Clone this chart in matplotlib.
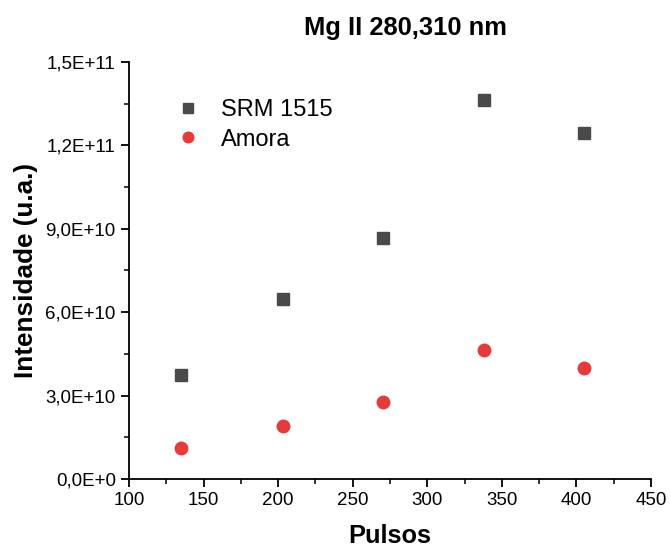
import matplotlib

matplotlib.use("Agg")

import matplotlib.pyplot as plt
from matplotlib.ticker import FuncFormatter, MultipleLocator

plt.rcParams["font.family"] = ["Liberation Sans", "DejaVu Sans"]

pulsos = [135, 203, 270, 338, 405]
srm_1515 = [3.74e10, 6.47e10, 8.66e10, 1.362e11, 1.243e11]
amora = [1.11e10, 1.90e10, 2.77e10, 4.63e10, 3.99e10]


def _sci_comma(v, _pos):
    if v == 0:
        return "0,0E+0"
    s = f"{v:.1E}"
    mant, exp = s.split("E")
    return f"{mant.replace('.', ',')}E+{int(exp)}"


fig = plt.figure(figsize=(6.7, 5.48), dpi=100)
ax = fig.add_axes([0.1925, 0.1259, 0.7791, 0.761])

ax.plot(pulsos, srm_1515, ls="none", marker="s", ms=8, color="#4a4a4a",
        label="SRM 1515")
ax.plot(pulsos, amora, ls="none", marker="o", ms=9, color="#e63b3b",
        label="Amora")

ax.set_xlim(100, 450)
ax.set_ylim(0, 1.5e11)
ax.xaxis.set_major_locator(MultipleLocator(50))
ax.xaxis.set_minor_locator(MultipleLocator(25))
ax.yaxis.set_major_locator(MultipleLocator(3e10))
ax.yaxis.set_minor_locator(MultipleLocator(1.5e10))
ax.yaxis.set_major_formatter(FuncFormatter(_sci_comma))
ax.yaxis.get_offset_text().set_visible(False)

for side in ("top", "right"):
    ax.spines[side].set_visible(False)
for side in ("left", "bottom"):
    ax.spines[side].set_linewidth(1.3)
ax.tick_params(which="major", direction="out", length=6, width=1.3,
               labelsize=13.5, colors="black")
ax.tick_params(which="minor", direction="out", length=3.5, width=1.1)

ax.set_xlabel("Pulsos", fontsize=18.3, fontweight="bold", labelpad=11)
ax.set_ylabel("Intensidade (u.a.)", fontsize=18.8, fontweight="bold", labelpad=5)

ax.legend(loc="upper left", bbox_to_anchor=(0.09, 0.911), frameon=False,
          fontsize=17, handletextpad=0.9, labelspacing=0.32, handlelength=1.0,
          borderpad=0, borderaxespad=0, markerscale=0.85)

fig.text(405 / 670, 1 - 28 / 548, "Mg II 280,310 nm", ha="center", va="center",
         fontsize=18.4, fontweight="bold")

fig.savefig("out.png", dpi=100)
